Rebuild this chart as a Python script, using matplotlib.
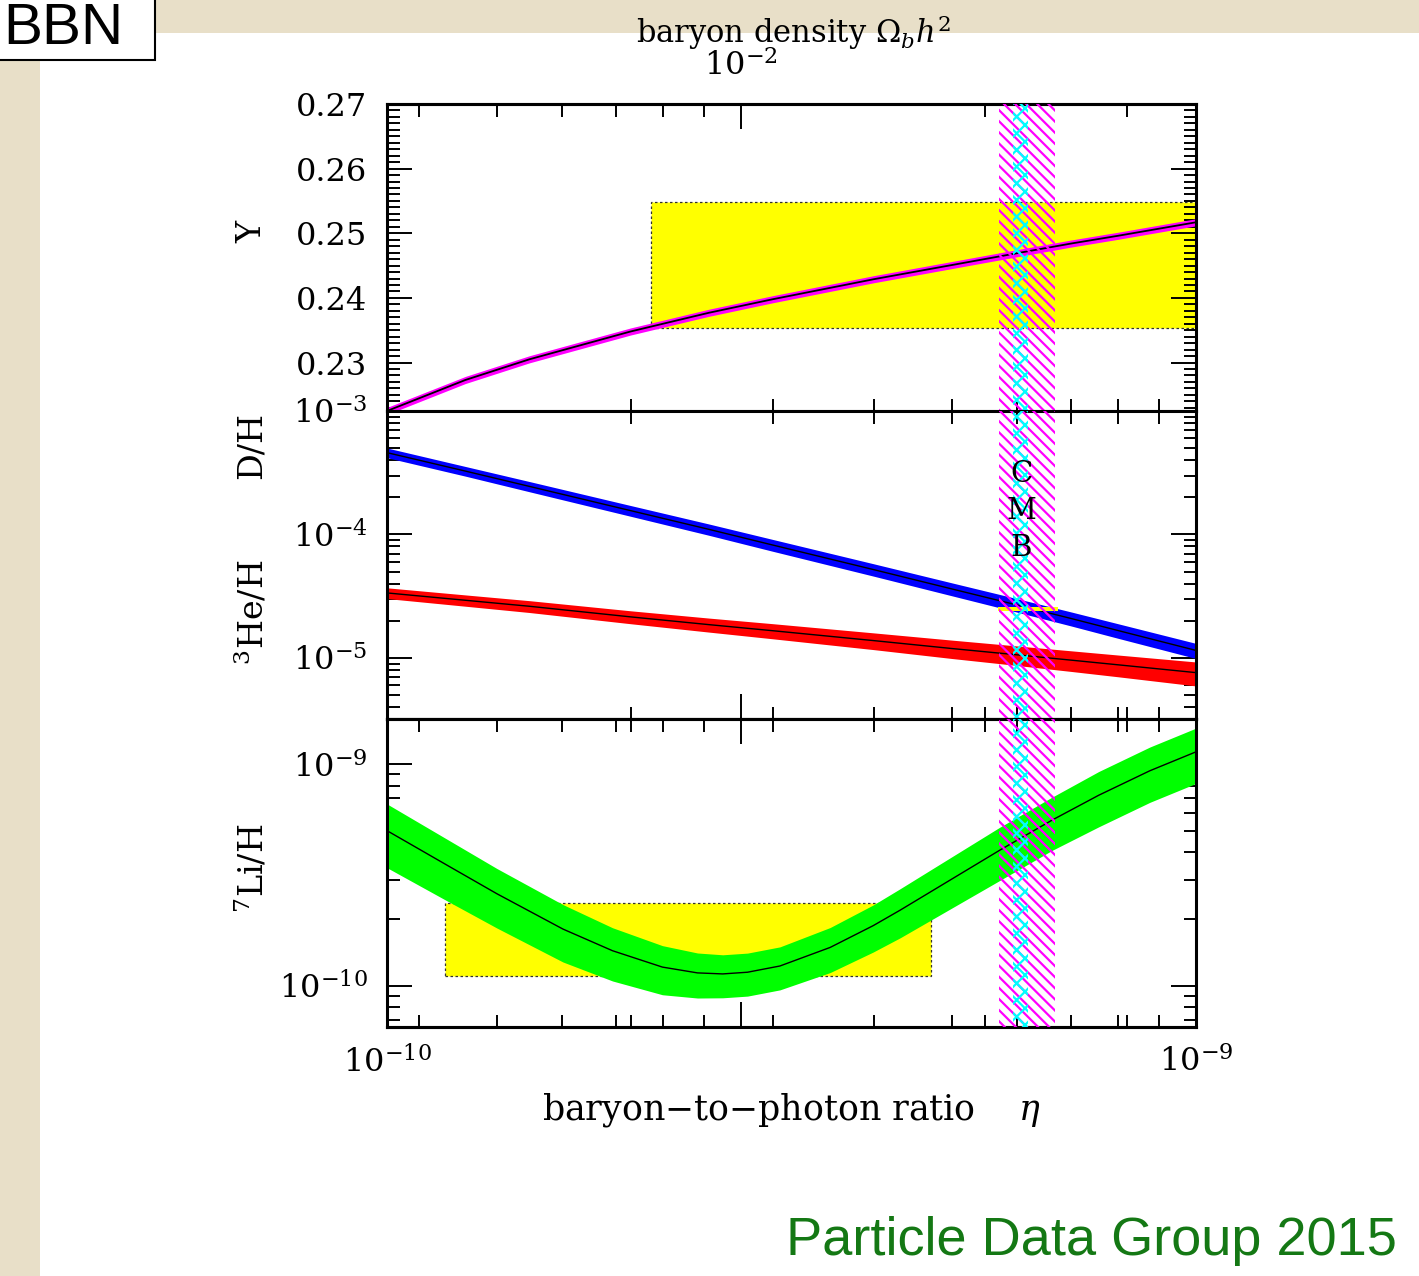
"""Big-bang nucleosynthesis abundances vs baryon-to-photon ratio (PDG 2015 style)."""
import numpy as np
import matplotlib

matplotlib.use("Agg")
import matplotlib.pyplot as plt
from matplotlib.patches import Rectangle
from matplotlib.ticker import FixedLocator, MultipleLocator, NullFormatter, LogLocator
from matplotlib.transforms import blended_transform_factory

W, H = 1419, 1276

# --- abundance curves (eta in units of 1e-10) ---------------------------------
eta10 = [1.0, 1.25, 1.5, 2.0, 2.5, 3.0, 4.0, 5.0, 6.0, 7.0, 8.0, 10.0]
he4_Y = [0.2225, 0.2273, 0.2305, 0.2348, 0.2377, 0.2398, 0.2429, 0.2451,
         0.2469, 0.2484, 0.2496, 0.2517]
he4_err = 0.00055
d_h = [46.0, 32.6, 24.5, 15.6, 11.0, 8.2, 5.18, 3.61, 2.69, 2.09, 1.67, 1.15]   # 1e-5
d_relerr = [0.09, 0.09, 0.095, 0.10, 0.105, 0.11, 0.115, 0.12, 0.125, 0.13, 0.135, 0.14]
he3_h = [3.36, 2.93, 2.62, 2.15, 1.86, 1.66, 1.38, 1.19, 1.06, 0.96, 0.88, 0.76]  # 1e-5
he3_relerr = [0.10, 0.105, 0.11, 0.12, 0.13, 0.14, 0.155, 0.17, 0.18, 0.19, 0.20, 0.22]

li_eta10 = [1.0, 1.186, 1.367, 1.65, 1.90, 2.19, 2.42, 2.60, 2.79, 3.06, 3.53,
            3.99, 4.31, 4.96, 5.72, 6.64, 7.58, 8.77, 10.0]
li7_h = [5.01, 3.50, 2.60, 1.80, 1.437, 1.212, 1.141, 1.129, 1.149, 1.226, 1.487,
         1.865, 2.193, 2.987, 4.087, 5.591, 7.237, 9.341, 11.37]                 # 1e-10
li_relerr = [0.32, 0.31, 0.30, 0.29, 0.27, 0.25, 0.23, 0.22, 0.22, 0.22, 0.23,
             0.24, 0.25, 0.26, 0.27, 0.27, 0.28, 0.28, 0.28]

# --- observational boxes and CMB bands -----------------------------------------
yp_box_eta10 = (2.12, 10.0)
yp_box = (0.2353, 0.2548)
dh_box_eta10 = (5.69, 6.75)
dh_box = (2.42, 2.58)          # 1e-5
li_box_eta10 = (1.18, 4.70)
li_box = (1.11, 2.35)          # 1e-10
concord_eta10 = (5.70, 6.69)
cmb_eta10 = (5.94, 6.20)
cmb_center10 = 6.08

ETA_PER_OMEGA = 273.9e-10
omega_major = [0.01]
omega_minor = [0.004, 0.005, 0.006, 0.007, 0.008, 0.009, 0.02, 0.03]


def to_omega(eta):
    return np.asarray(eta) / ETA_PER_OMEGA


def to_eta(om):
    return np.asarray(om) * ETA_PER_OMEGA


def fx(px):
    return px / W


def fy(py):
    return 1 - py / H


plt.rcParams.update({
    "font.family": "DejaVu Serif",
    "mathtext.fontset": "dejavuserif",
    "hatch.linewidth": 1.6,
})

fig = plt.figure(figsize=(W / 100, H / 100), dpi=100)
fig.patch.set_facecolor("#e8dfc8")
fig.add_artist(Rectangle((fx(40), 0), 1, fy(33), transform=fig.transFigure,
                         facecolor="white", edgecolor="none", zorder=-1))

left, width = fx(387), fx(1196) - fx(387)
ax_y = fig.add_axes([left, fy(411), width, (411 - 104) / H])
ax_m = fig.add_axes([left, fy(719), width, (719 - 411) / H])
ax_l = fig.add_axes([left, fy(1027), width, (1027 - 719) / H])

eta = np.array(eta10) * 1e-10
li_eta = np.array(li_eta10) * 1e-10
eta_minor = [k * 1e-10 for k in range(2, 10)]


def style(ax, top_eta=True):
    ax.set_xscale("log")
    ax.set_xlim(1e-10, 1e-9)
    ax.xaxis.set_major_locator(FixedLocator([1e-10, 1e-9]))
    ax.xaxis.set_minor_locator(FixedLocator(eta_minor))
    ax.xaxis.set_minor_formatter(NullFormatter())
    ax.tick_params(which="both", direction="in", right=True, top=top_eta,
                   width=1.4, labelsize=23, pad=14)
    ax.tick_params(which="major", length=18)
    ax.tick_params(which="minor", length=9)
    ax.tick_params(axis="x", labelbottom=False)
    for s in ax.spines.values():
        s.set_linewidth(2.2)


def omega_ticks(ax, where, minor=omega_minor, label=False):
    sec = ax.secondary_xaxis(where, functions=(to_omega, to_eta))
    sec.xaxis.set_major_locator(FixedLocator(omega_major))
    sec.xaxis.set_minor_locator(FixedLocator(minor))
    sec.xaxis.set_minor_formatter(NullFormatter())
    if label:
        sec.set_xticklabels([r"$10^{-2}$"])
    else:
        sec.xaxis.set_major_formatter(NullFormatter())
    sec.tick_params(which="both", direction="in", width=1.4, labelsize=23, pad=16)
    sec.tick_params(which="major", length=18)
    sec.tick_params(which="minor", length=9)
    for s in sec.spines.values():
        s.set_linewidth(2.2)
    return sec


def bands(ax):
    ax.axvspan(concord_eta10[0] * 1e-10, concord_eta10[1] * 1e-10, facecolor="none",
               edgecolor="#ff00ff", hatch="\\\\\\", lw=0, zorder=6)
    ax.axvspan(cmb_eta10[0] * 1e-10, cmb_eta10[1] * 1e-10, facecolor="none",
               edgecolor="#00ffff", hatch="xx", lw=0, zorder=7)


def box(ax, xr, yr, scale, z=1):
    x0, x1 = xr[0] * 1e-10, xr[1] * 1e-10
    y0, y1 = yr[0] * scale, yr[1] * scale
    ax.add_patch(Rectangle((x0, y0), x1 - x0, y1 - y0, facecolor="#ffff00",
                           edgecolor="#333333", lw=0.9, ls=(0, (2, 2)), zorder=z))


# --- helium-4 mass fraction ---
style(ax_y, top_eta=False)
omega_ticks(ax_y, "top", label=True)
ax_y.set_ylim(0.2225, 0.27)
ax_y.yaxis.set_major_locator(FixedLocator([0.23, 0.24, 0.25, 0.26, 0.27]))
ax_y.yaxis.set_minor_locator(MultipleLocator(0.001))
ax_y.set_yticklabels(["0.23", "0.24", "0.25", "0.26", "0.27"])
box(ax_y, yp_box_eta10, yp_box, 1.0)
Y = np.array(he4_Y)
ax_y.fill_between(eta, Y - he4_err, Y + he4_err, color="#ff00ff", lw=0, zorder=2)
ax_y.plot(eta, Y, color="black", lw=1.3, zorder=3)
bands(ax_y)

# --- deuterium and helium-3 ---
style(ax_m)
omega_ticks(ax_m, "bottom", minor=[0.02, 0.03])
ax_m.set_yscale("log")
ax_m.set_ylim(3.2e-6, 1e-3)
ax_m.yaxis.set_major_locator(FixedLocator([1e-5, 1e-4, 1e-3]))
ax_m.set_yticklabels([r"$10^{-5}$", r"$10^{-4}$", r"$10^{-3}$"])
ax_m.yaxis.set_minor_locator(LogLocator(base=10, subs=np.arange(2, 10)))
ax_m.yaxis.set_minor_formatter(NullFormatter())
D = np.array(d_h) * 1e-5
dE = np.array(d_relerr)
ax_m.fill_between(eta, D * (1 - dE), D * (1 + dE), color="#0000ff", lw=0, zorder=2)
ax_m.plot(eta, D, color="black", lw=1.0, zorder=3)
He3 = np.array(he3_h) * 1e-5
hE = np.array(he3_relerr)
ax_m.fill_between(eta, He3 * (1 - hE), He3 * (1 + hE), color="#ff0000", lw=0, zorder=2)
ax_m.plot(eta, He3, color="black", lw=1.0, zorder=3)
ax_m.add_patch(Rectangle((dh_box_eta10[0] * 1e-10, dh_box[0] * 1e-5),
                         (dh_box_eta10[1] - dh_box_eta10[0]) * 1e-10,
                         (dh_box[1] - dh_box[0]) * 1e-5,
                         facecolor="#ffff00", edgecolor="none", zorder=4))
bands(ax_m)
tr = blended_transform_factory(ax_m.transData, ax_m.transAxes)
for letter, yf in zip("CMB", [0.795, 0.675, 0.555]):
    ax_m.text(cmb_center10 * 1e-10, yf, letter, transform=tr, ha="center",
              va="center", fontsize=21, zorder=8)

# --- lithium-7 ---
style(ax_l)
omega_ticks(ax_l, "top")
omega_ticks(ax_l, "bottom")
ax_l.set_yscale("log")
ax_l.set_ylim(6.5e-11, 1.6e-9)
ax_l.yaxis.set_major_locator(FixedLocator([1e-10, 1e-9]))
ax_l.set_yticklabels([r"$10^{-10}$", r"$10^{-9}$"])
ax_l.yaxis.set_minor_locator(LogLocator(base=10, subs=np.arange(2, 10)))
ax_l.yaxis.set_minor_formatter(NullFormatter())
box(ax_l, li_box_eta10, li_box, 1e-10)
Li = np.array(li7_h) * 1e-10
lE = np.array(li_relerr)
ax_l.fill_between(li_eta, Li * (1 - lE), Li * (1 + lE), color="#00ff00", lw=0, zorder=2)
ax_l.plot(li_eta, Li, color="black", lw=1.0, zorder=3)
bands(ax_l)
ax_l.tick_params(axis="x", labelbottom=True)
ax_l.set_xticklabels([r"$10^{-10}$", r"$10^{-9}$"])
ax_l.set_xlabel("baryon\u2212to\u2212photon ratio    $\\eta$", fontsize=25, labelpad=8)

# --- axis titles ---
fig.text(fx(793), fy(33), r"baryon density $\Omega_{b}h^{2}$", ha="center",
         va="center", fontsize=22)
for txt, py in [("Y", 232), ("D/H", 445), (r"$^{3}$He/H", 612), (r"$^{7}$Li/H", 868)]:
    fig.text(fx(252), fy(py), txt, rotation=90, ha="center", va="center", fontsize=24)

# --- slide decorations ---
fig.add_artist(Rectangle((-0.01, fy(60)), fx(155) + 0.01, 0.1, transform=fig.transFigure,
                         facecolor="white", edgecolor="black", lw=1.5, zorder=5))
fig.text(fx(3), fy(44), "BBN", family="Liberation Sans", fontsize=42,
         ha="left", va="baseline", zorder=6)
fig.text(fx(1397), fy(1241), "Particle Data Group 2015", family="Liberation Sans",
         fontsize=39, color="#147814", ha="right", va="center")

fig.savefig("out.png", dpi=100)
